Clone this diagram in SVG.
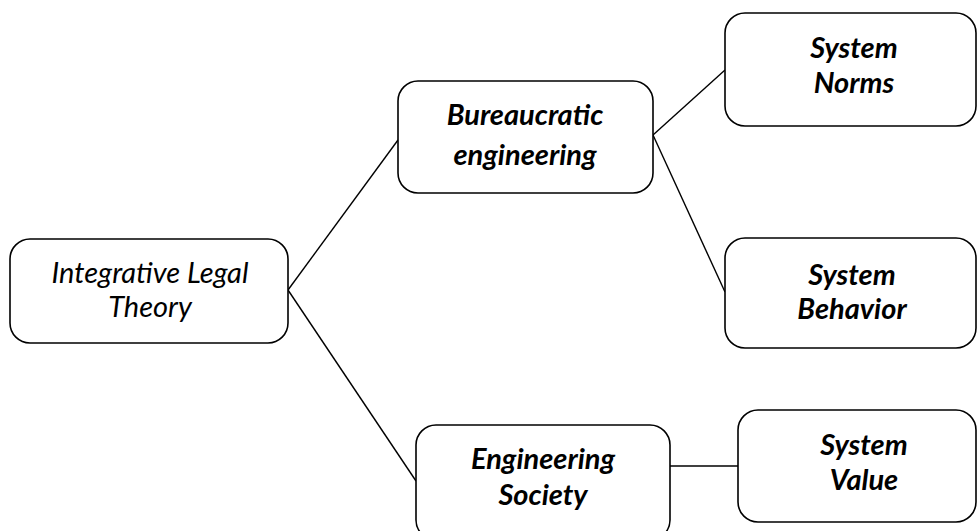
<svg xmlns="http://www.w3.org/2000/svg" width="978" height="531" viewBox="0 0 978 531">
<style>
.box{fill:#fff;stroke:#000;stroke-width:1.6}
.lbl{font-family:Lato,"Open Sans","Liberation Sans",sans-serif;font-size:29px;font-style:italic;text-anchor:middle;fill:#000}
.b{font-weight:bold}
.conn{stroke:#000;stroke-width:1.4;fill:none}
</style>
<rect width="978" height="531" fill="#fff"/>
<g id="connectors">
<line class="conn" x1="288" y1="290" x2="398" y2="140"/>
<line class="conn" x1="288" y1="290" x2="416" y2="481"/>
<line class="conn" x1="653" y1="135" x2="725" y2="70"/>
<line class="conn" x1="653" y1="135" x2="725" y2="292"/>
<line class="conn" x1="670" y1="466" x2="738" y2="466"/>
</g>
<g id="n1">
<rect class="box" x="10" y="239" width="278" height="104" rx="20"/>
<text class="lbl" x="150" y="283">Integrative Legal</text>
<text class="lbl" x="150" y="317">Theory</text>
</g>
<g id="n2">
<rect class="box" x="398" y="81" width="255" height="112" rx="20"/>
<text class="lbl b" x="525" y="125">Bureaucratic</text>
<text class="lbl b" x="525" y="165">engineering</text>
</g>
<g id="n3">
<rect class="box" x="725" y="13" width="251" height="113" rx="20"/>
<text class="lbl b" x="854" y="58">System</text>
<text class="lbl b" x="854" y="93">Norms</text>
</g>
<g id="n4">
<rect class="box" x="725" y="238" width="251" height="110" rx="20"/>
<text class="lbl b" x="852" y="285">System</text>
<text class="lbl b" x="852" y="319">Behavior</text>
</g>
<g id="n5">
<rect class="box" x="416" y="425" width="254" height="115" rx="20"/>
<text class="lbl b" x="543" y="469">Engineering</text>
<text class="lbl b" x="543" y="505">Society</text>
</g>
<g id="n6">
<rect class="box" x="738" y="410" width="238" height="112" rx="20"/>
<text class="lbl b" x="864" y="455">System</text>
<text class="lbl b" x="864" y="490">Value</text>
</g>
</svg>
